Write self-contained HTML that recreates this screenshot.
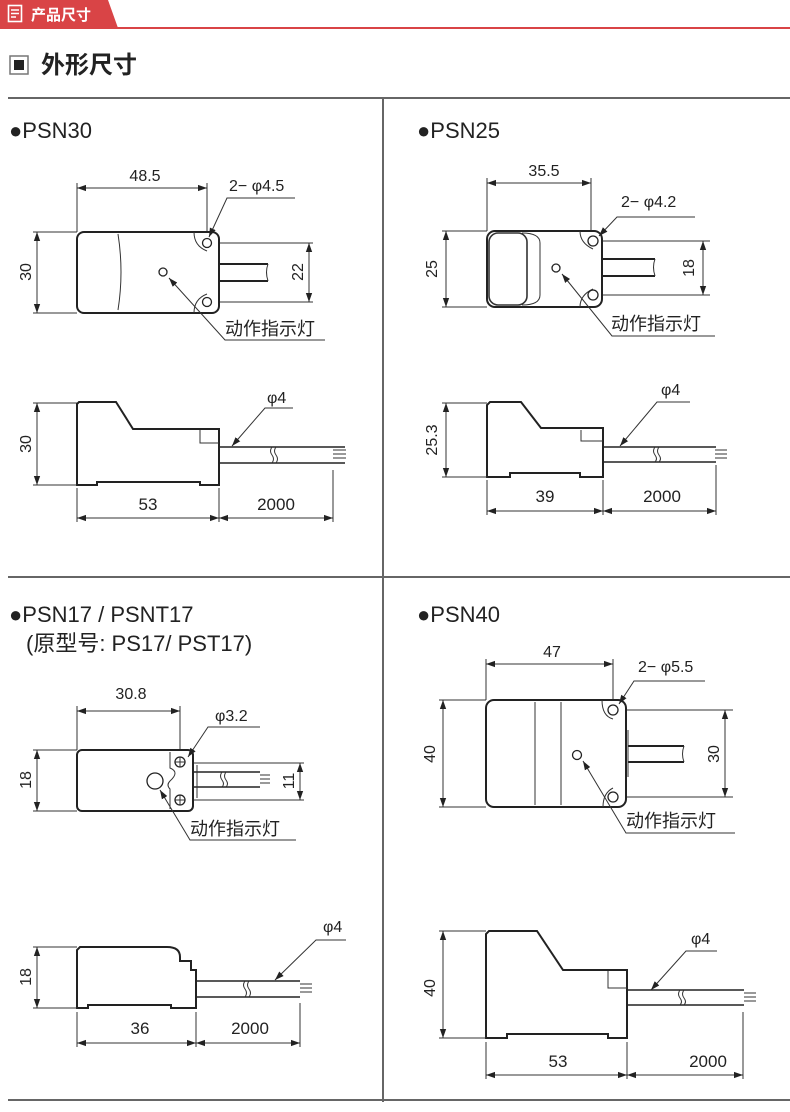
<!DOCTYPE html>
<html><head><meta charset="utf-8"><style>
html,body{margin:0;padding:0;background:#fff;}
svg{display:block;}
text{font-family:"Liberation Sans","Noto Sans CJK SC",sans-serif;fill:#222;}
.b{fill:#fff;stroke:#222;stroke-width:2;}
.t{fill:none;stroke:#333;stroke-width:1;}
.d{fill:none;stroke:#333;stroke-width:1;marker-start:url(#a);marker-end:url(#a);}
.l{fill:none;stroke:#333;stroke-width:1;marker-end:url(#a);}
.c{fill:#fff;stroke:#222;stroke-width:1.3;}
</style></head><body>
<svg width="790" height="1112" viewBox="0 0 790 1112" xmlns="http://www.w3.org/2000/svg">
<defs><marker id="a" viewBox="0 0 10 10" refX="10" refY="5" markerWidth="9" markerHeight="9" orient="auto-start-reverse" markerUnits="userSpaceOnUse"><path d="M0,1.5 L10,5 L0,8.5 z" fill="#222"/></marker></defs>
<!-- header -->
<path d="M0,0 H108 L118,28 H0 z" fill="#d94446"/>
<rect x="0" y="27" width="790" height="2" fill="#d94446"/>
<rect x="8.5" y="5.5" width="13" height="16" fill="none" stroke="#fff" stroke-width="1.6"/>
<path d="M11,10H19M11,13.5H19M11,17H16" stroke="#fff" stroke-width="1.5"/>
<text x="31" y="20" font-size="15" font-weight="bold" style="fill:#fff">产品尺寸</text>
<rect x="10" y="56" width="18" height="18" fill="#fff" stroke="#777" stroke-width="1.5"/>
<rect x="14" y="60" width="10" height="10" fill="#222"/>
<text x="41" y="73" font-size="24" font-weight="bold">外形尺寸</text>
<rect x="8" y="97" width="782" height="2" fill="#666"/>
<rect x="382" y="98" width="2" height="1004" fill="#666"/>
<rect x="8" y="576" width="782" height="2" fill="#666"/>
<rect x="8" y="1099" width="782" height="2" fill="#666"/>

<!-- PSN30 -->
<text x="9" y="138" font-size="22">●PSN30</text>
<path class="t" d="M77,183V232M207,183V236M33,232H77M33,313H77M219,243H313M219,302H313"/>
<line class="d" x1="77" y1="188" x2="207" y2="188"/>
<text x="145" y="181" font-size="16" text-anchor="middle">48.5</text>
<line class="d" x1="37" y1="232" x2="37" y2="313"/>
<text transform="translate(31,272) rotate(-90)" font-size="16" text-anchor="middle">30</text>
<line class="d" x1="309" y1="243" x2="309" y2="302"/>
<text transform="translate(303,272) rotate(-90)" font-size="16" text-anchor="middle">22</text>
<path class="b" d="M219,264H268M219,281H268" />
<path class="t" d="M268,264q-3,8 0,17"/>
<rect class="b" x="77" y="232" width="142" height="81" rx="7"/>
<path class="t" d="M118,234q6,38 0,76"/>
<path class="t" d="M194,232q0,14 13,19M194,313q0,-14 13,-19"/>
<circle class="c" cx="207" cy="243" r="4.5"/><circle class="c" cx="207" cy="302" r="4.5"/>
<circle class="c" cx="163" cy="272" r="4"/>
<text x="229" y="191" font-size="16">2− φ4.5</text>
<polyline class="l" points="295,198 227,198 209,237"/>
<text x="225" y="335" font-size="18">动作指示灯</text>
<polyline class="l" points="325,340 225,340 169,278"/>
<path class="b" d="M79,402H116L133,429H219V485H200V482H97V485H77V404z"/>
<path class="t" d="M200,430V443H219"/>
<path class="b" d="M219,447H345M219,463H345" style="stroke-width:1.6"/>
<path class="t" d="M272,447q-3,4 0,8q3,4 0,8M276,447q-3,4 0,8q3,4 0,8M333,450h13M333,454h13M333,458h13"/>
<path class="t" d="M33,403H77M33,485H77M77,488V522M219,488V522M333,470V522"/>
<line class="d" x1="37" y1="403" x2="37" y2="485"/>
<text transform="translate(31,444) rotate(-90)" font-size="16" text-anchor="middle">30</text>
<line class="d" x1="77" y1="518" x2="219" y2="518"/>
<line class="d" x1="219" y1="518" x2="333" y2="518"/>
<text x="148" y="510" font-size="17" text-anchor="middle">53</text>
<text x="276" y="510" font-size="17" text-anchor="middle">2000</text>
<text x="267" y="403" font-size="16">φ4</text>
<polyline class="l" points="293,408 265,408 232,446"/>

<!-- PSN25 -->
<text x="417" y="138" font-size="22">●PSN25</text>
<path class="t" d="M487,178V231M591,178V236M442,231H487M442,307H487M602,241H710M602,295H710"/>
<line class="d" x1="487" y1="183" x2="591" y2="183"/>
<text x="544" y="176" font-size="16" text-anchor="middle">35.5</text>
<line class="d" x1="446" y1="231" x2="446" y2="307"/>
<text transform="translate(437,269) rotate(-90)" font-size="16" text-anchor="middle">25</text>
<line class="d" x1="703" y1="241" x2="703" y2="295"/>
<text transform="translate(694,268) rotate(-90)" font-size="16" text-anchor="middle">18</text>
<path class="b" d="M602,259H655M602,276H655"/>
<path class="t" d="M655,259q-3,8 0,17"/>
<rect class="b" x="487" y="231" width="115" height="76" rx="8"/>
<rect class="t" x="489" y="233" width="38" height="72" rx="9" style="stroke-width:1.6"/>
<path class="t" d="M522,233q18,0 18,10V295q0,10 -18,10"/>
<path class="t" d="M580,231q0,12 13,18M580,307q0,-12 13,-18"/>
<circle class="c" cx="593" cy="241" r="5"/><circle class="c" cx="593" cy="295" r="5"/>
<circle class="c" cx="556" cy="268" r="4"/>
<text x="621" y="207" font-size="16">2− φ4.2</text>
<polyline class="l" points="695,217 617,217 599,236"/>
<text x="611" y="330" font-size="18">动作指示灯</text>
<polyline class="l" points="715,336 612,336 562,274"/>
<path class="b" d="M490,402H521L541,428H603V477H580V473H510V477H487V405z"/>
<path class="t" d="M581,430V441H603"/>
<path class="b" d="M603,447H716M603,462H716" style="stroke-width:1.6"/>
<path class="t" d="M655,447q-3,4 0,8q3,4 0,7M659,447q-3,4 0,8q3,4 0,7M715,450h12M715,454h12M715,458h12"/>
<path class="t" d="M442,403H487M442,477H487M487,480V515M603,480V515M716,465V515"/>
<line class="d" x1="446" y1="403" x2="446" y2="477"/>
<text transform="translate(437,440) rotate(-90)" font-size="16" text-anchor="middle">25.3</text>
<line class="d" x1="487" y1="511" x2="603" y2="511"/>
<line class="d" x1="603" y1="511" x2="716" y2="511"/>
<text x="545" y="502" font-size="17" text-anchor="middle">39</text>
<text x="662" y="502" font-size="17" text-anchor="middle">2000</text>
<text x="661" y="395" font-size="16">φ4</text>
<polyline class="l" points="690,402 657,402 620,446"/>

<!-- PSN17 -->
<text x="9" y="622" font-size="22">●PSN17 / PSNT17</text>
<text x="26" y="651" font-size="22">(原型号: PS17/ PST17)</text>
<path class="t" d="M77,706V750M180,706V755M33,750H77M33,811H77M193,763H304M193,800H304"/>
<line class="d" x1="77" y1="711" x2="180" y2="711"/>
<text x="131" y="699" font-size="16" text-anchor="middle">30.8</text>
<line class="d" x1="37" y1="750" x2="37" y2="811"/>
<text transform="translate(31,780) rotate(-90)" font-size="16" text-anchor="middle">18</text>
<line class="d" x1="300" y1="763" x2="300" y2="800"/>
<text transform="translate(294,781) rotate(-90)" font-size="16" text-anchor="middle">11</text>
<path class="b" d="M193,772H260M193,787H260" style="stroke-width:1.6"/>
<path class="t" d="M222,772q-3,4 0,8q3,4 0,7M226,772q-3,4 0,8q3,4 0,7M260,775h10M260,779h10M260,783h10M197,765V798"/>
<rect class="b" x="77" y="750" width="116" height="61" rx="5"/>
<path class="t" d="M170,752V768q10,4 0,13q-4,4 0,8V809"/>
<circle class="c" cx="180" cy="762" r="5"/><path class="t" d="M175,762h10M180,757v10M175,800h10M180,795v10"/><circle class="c" cx="180" cy="800" r="5" style="fill:none"/>
<circle class="c" cx="155" cy="781" r="8"/>
<text x="215" y="721" font-size="16">φ3.2</text>
<polyline class="l" points="260,727 208,727 188,757"/>
<text x="190" y="835" font-size="18">动作指示灯</text>
<polyline class="l" points="296,840 190,840 160,790"/>
<path class="b" d="M80,947H167Q180,947 180,957V961H191V970H196V1008H171V1005H88V1008H77V950z"/>
<path class="b" d="M196,981H300M196,997H300" style="stroke-width:1.6"/>
<path class="t" d="M245,981q-3,4 0,8q3,4 0,8M249,981q-3,4 0,8q3,4 0,8M300,984h12M300,988h12M300,992h12"/>
<path class="t" d="M33,947H77M33,1008H77M77,1012V1047M196,1012V1047M300,1003V1047"/>
<line class="d" x1="37" y1="947" x2="37" y2="1008"/>
<text transform="translate(31,977) rotate(-90)" font-size="16" text-anchor="middle">18</text>
<line class="d" x1="77" y1="1043" x2="196" y2="1043"/>
<line class="d" x1="196" y1="1043" x2="300" y2="1043"/>
<text x="140" y="1034" font-size="17" text-anchor="middle">36</text>
<text x="250" y="1034" font-size="17" text-anchor="middle">2000</text>
<text x="323" y="932" font-size="16">φ4</text>
<polyline class="l" points="346,940 316,940 275,980"/>

<!-- PSN40 -->
<text x="417" y="622" font-size="22">●PSN40</text>
<path class="t" d="M486,659V700M613,659V705M439,700H486M439,807H486M626,710H733M626,797H733"/>
<line class="d" x1="486" y1="664" x2="613" y2="664"/>
<text x="552" y="657" font-size="16" text-anchor="middle">47</text>
<line class="d" x1="443" y1="700" x2="443" y2="807"/>
<text transform="translate(435,754) rotate(-90)" font-size="16" text-anchor="middle">40</text>
<line class="d" x1="725" y1="710" x2="725" y2="797"/>
<text transform="translate(719,754) rotate(-90)" font-size="16" text-anchor="middle">30</text>
<path class="b" d="M628,746H684M628,762H684"/>
<path class="t" d="M684,746q-3,8 0,16"/>
<rect class="b" x="486" y="700" width="140" height="107" rx="8"/>
<path class="t" d="M535,702V805M561,702V805M628,730V777"/>
<path class="t" d="M602,700q0,16 11,19M603,807q0,-14 10,-19"/>
<circle class="c" cx="613" cy="710" r="5"/><circle class="c" cx="613" cy="797" r="5"/>
<circle class="c" cx="577" cy="755" r="4.5"/>
<text x="638" y="672" font-size="16">2− φ5.5</text>
<polyline class="l" points="705,681 634,681 619,704"/>
<text x="626" y="827" font-size="18">动作指示灯</text>
<polyline class="l" points="735,833 626,833 583,761"/>
<path class="b" d="M489,931H537L563,970H627V1038H608V1034H507V1038H486V934z"/>
<path class="t" d="M608,971V988H627"/>
<path class="b" d="M627,990H744M627,1005H744" style="stroke-width:1.6"/>
<path class="t" d="M680,990q-3,4 0,8q3,4 0,7M684,990q-3,4 0,8q3,4 0,7M744,993h12M744,997h12M744,1001h12"/>
<path class="t" d="M439,931H486M439,1038H486M486,1042V1079M627,1042V1079M743,1012V1079"/>
<line class="d" x1="443" y1="931" x2="443" y2="1038"/>
<text transform="translate(435,988) rotate(-90)" font-size="16" text-anchor="middle">40</text>
<line class="d" x1="486" y1="1075" x2="627" y2="1075"/>
<line class="d" x1="627" y1="1075" x2="743" y2="1075"/>
<text x="558" y="1067" font-size="17" text-anchor="middle">53</text>
<text x="708" y="1067" font-size="17" text-anchor="middle">2000</text>
<text x="691" y="944" font-size="16">φ4</text>
<polyline class="l" points="717,951 686,951 651,990"/>
</svg>
</body></html>
